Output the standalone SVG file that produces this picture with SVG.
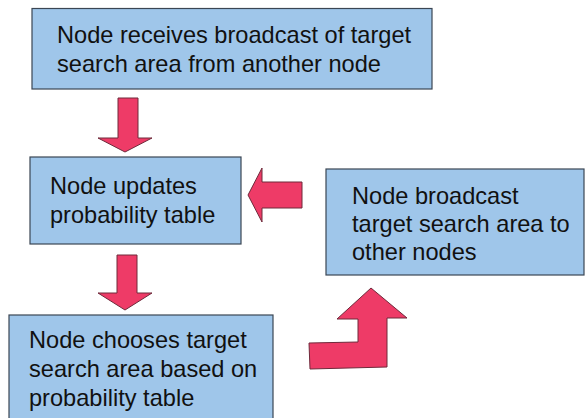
<svg xmlns="http://www.w3.org/2000/svg" width="585" height="418" viewBox="0 0 585 418">
<style>
.box{fill:#9fc6ea;stroke:#3b4654;stroke-width:1.2}
.t{font-family:"Liberation Sans",Arial,sans-serif;font-size:23.6px;fill:#111}
.arr{fill:#ee3b67;stroke:#6e2a3b;stroke-width:1}
</style>
<rect width="585" height="418" fill="#fff"/>
<g id="node-receive">
<rect class="box" x="32" y="8.5" width="400" height="80.5"/>
<text class="t" x="57" y="43">Node receives broadcast of target</text>
<text class="t" x="57" y="72">search area from another node</text>
</g>
<g id="node-update">
<rect class="box" x="30" y="157" width="211" height="87"/>
<text class="t" x="50" y="194">Node updates</text>
<text class="t" x="50" y="223">probability table</text>
</g>
<g id="node-broadcast">
<rect class="box" x="326" y="169" width="258" height="106"/>
<text class="t" x="352" y="204">Node broadcast</text>
<text class="t" x="352" y="232">target search area to</text>
<text class="t" x="352" y="260">other nodes</text>
</g>
<g id="node-choose">
<rect class="box" x="9" y="315" width="264" height="115"/>
<text class="t" x="29" y="348">Node chooses target</text>
<text class="t" x="29" y="377">search area based on</text>
<text class="t" x="29" y="406">probability table</text>
</g>
<g id="connectors">
<polygon class="arr" points="118,98 138,98 138,138 152,138 125,152 98,138 118,138"/>
<polygon class="arr" points="302,182 302,208 262,208 262,222 248,195 262,168 262,182"/>
<polygon class="arr" points="117,255 137,255 137,293 152,293 125,310 98,293 117,293"/>
<polygon class="arr" points="371,288 407,318 387,318 387,367 310,369 309,343 358,342 358,319 337,319"/>
</g>
</svg>
